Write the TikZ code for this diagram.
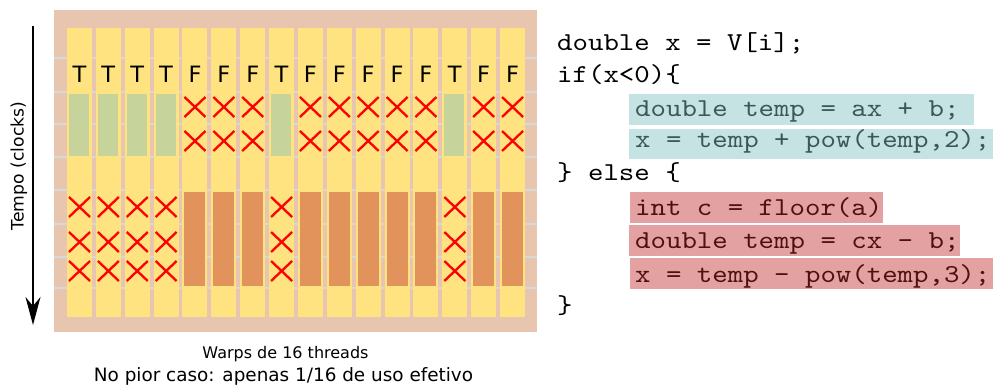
\documentclass[tikz,border=0pt]{standalone}
\usepackage{fontspec}
\setmainfont{DejaVu Sans}
\newfontfamily\codefont[FakeStretch=1.14]{lmmono10-regular.otf}
\usetikzlibrary{arrows.meta}
\definecolor{panelbg}{HTML}{E8C5AE}
\definecolor{stripc}{HTML}{FEE380}
\definecolor{tgreen}{HTML}{C6D49C}
\definecolor{forange}{HTML}{E2935C}
\definecolor{gridc}{HTML}{D8D8D8}
\definecolor{tealbox}{HTML}{C5E3E3}
\definecolor{redbox}{HTML}{E3A1A1}
\definecolor{tealtext}{HTML}{3A5858}
\definecolor{redtext}{HTML}{4E1010}
\tikzset{
  xstyle/.style={draw=red, line width=2.3pt},
  codeline/.style={anchor=base west, inner sep=0pt, font=\codefont\fontsize{25.8}{28}\selectfont},
  tflabel/.style={anchor=base, inner sep=0pt, font=\fontsize{22.5}{26}\selectfont},
}
\begin{document}
\begin{tikzpicture}[x=1pt,y=-1pt]
\useasboundingbox (0,0) rectangle (993,385);
% panel
\fill[panelbg] (54,10) rectangle (537,332);
\foreach \gy in {58,92,124,157,190,224,257,288}
  \draw[gridc, line width=1.4pt] (54,\gy) -- (537,\gy);
% columns
\foreach \v [count=\i from 0] in {T,T,T,T,F,F,F,T,F,F,F,F,F,T,F,F} {
  \pgfmathsetmacro\xl{67+28.87*\i}
  \pgfmathsetmacro\xc{\xl+12.5}
  \fill[stripc] (\xl,28) rectangle ({\xl+25},317);
  \node[tflabel] (lab\i) at (\xc,83) {\v};
  \if\v T
    \fill[tgreen] ({\xl+2},94) rectangle ({\xl+22},156);
    \foreach \yy in {207,242,271}
      \draw[xstyle] ({\xc-10.5},{\yy-10}) -- ({\xc+10.5},{\yy+10}) ({\xc-10.5},{\yy+10}) -- ({\xc+10.5},{\yy-10});
  \else
    \fill[forange] ({\xl+2},192) rectangle ({\xl+23},286);
    \foreach \yy in {107,141}
      \draw[xstyle] ({\xc-10.5},{\yy-10}) -- ({\xc+10.5},{\yy+10}) ({\xc-10.5},{\yy+10}) -- ({\xc+10.5},{\yy-10});
  \fi
}
% time arrow
\coordinate (atop) at (33,26);
\coordinate (abot) at (33,325);
\draw[line width=1.5pt, -{Stealth[length=28pt,width=15pt,inset=9pt]}] (atop) -- (abot);
\node[rotate=90, inner sep=0pt, font=\fontsize{17.2}{20}\selectfont] (tempo) at (19,166) {Tempo (clocks)};
% captions
\node[anchor=base, inner sep=0pt, font=\fontsize{16}{18}\selectfont] (cap1) at (285.5,358) {Warps de 16 threads};
\node[anchor=base, inner sep=0pt, font=\fontsize{18.4}{22}\selectfont] (cap2) at (283.5,381) {No pior caso: apenas 1/16 de uso efetivo};
% code highlights
\fill[tealbox] (629,94) rectangle (974,125);
\fill[tealbox] (629,129) rectangle (993,159);
\fill[redbox] (630,192) rectangle (883,223);
\fill[redbox] (629,225) rectangle (960,256);
\fill[redbox] (630,258) rectangle (993,289);
% code
\node[codeline] (c1) at (557,51) {double x = V[i];};
\node[codeline] (c2) at (557,83) {if(x<0)\{};
\node[codeline, text=tealtext] (c3) at (635,117) {double temp = ax + b;};
\node[codeline, text=tealtext] (c4) at (635,148) {x = temp + pow(temp,2);};
\node[codeline] (c5) at (557,180) {\} else \{};
\node[codeline, text=redtext] (c6) at (635,215) {int c = floor(a)};
\node[codeline, text=redtext] (c7) at (635,248) {double temp = cx - b;};
\node[codeline, text=redtext] (c8) at (635,282) {x = temp - pow(temp,3);};
\node[codeline] (c9) at (557,313) {\}};
\end{tikzpicture}
\end{document}
